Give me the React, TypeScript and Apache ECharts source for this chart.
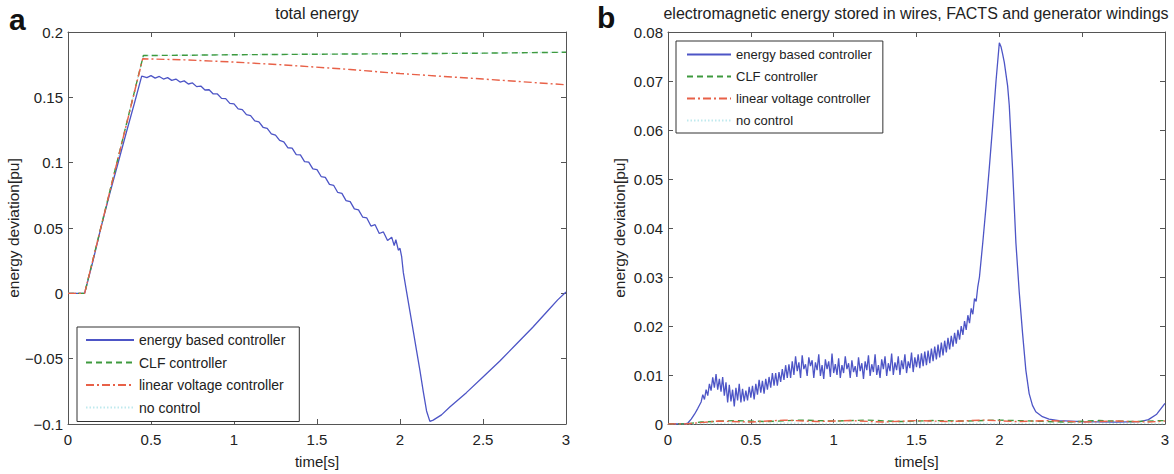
import React, { useEffect, useRef } from "react";
import * as echarts from "echarts";

const FONT = '"Liberation Sans", Arial, Helvetica, sans-serif';

const seriesNames = [
  "energy based controller",
  "CLF controller",
  "linear voltage controller",
  "no control",
];
const seriesColors = ["#4d55c6", "#3e9a3e", "#e86148", "#bfe9ee"];

const timeTicks = { min: 0, max: 3, interval: 0.5 };
const leftYTicks = { min: -0.1, max: 0.2, interval: 0.05 };
const rightYTicks = { min: 0, max: 0.08, interval: 0.01 };

const leftTitle = "total energy";
const rightTitle = "electromagnetic energy stored in wires, FACTS and generator windings";
const xName = "time[s]";
const yName = "energy deviation[pu]";

// ---- panel a: total energy ----
const leftEnergyBased: [number, number][] = [
  [0, 0], [0.1, 0], [0.15, 0.0245], [0.2, 0.051], [0.25, 0.0755], [0.3, 0.099], [0.35, 0.1225],
  [0.4, 0.1455], [0.444, 0.1662], [0.45, 0.166], [0.475, 0.1651], [0.5, 0.1666], [0.525, 0.1647],
  [0.55, 0.166], [0.575, 0.164], [0.6, 0.1651], [0.625, 0.163], [0.65, 0.164], [0.675, 0.1617],
  [0.7, 0.1626], [0.725, 0.1602], [0.75, 0.161], [0.775, 0.1582], [0.8, 0.1586], [0.825, 0.1556],
  [0.85, 0.1558], [0.875, 0.1526], [0.9, 0.1526], [0.925, 0.1492], [0.95, 0.149], [0.975, 0.1454],
  [1.0, 0.145], [1.025, 0.1412], [1.05, 0.1406], [1.075, 0.1367], [1.1, 0.136], [1.125, 0.132],
  [1.15, 0.1312], [1.175, 0.1271], [1.2, 0.1262], [1.225, 0.1221], [1.25, 0.1211], [1.275, 0.117],
  [1.3, 0.116], [1.325, 0.1114], [1.35, 0.1112], [1.375, 0.1062], [1.4, 0.1059], [1.425, 0.1008],
  [1.45, 0.1004], [1.475, 0.0952], [1.5, 0.0947], [1.525, 0.0894], [1.55, 0.0888], [1.575, 0.0834],
  [1.6, 0.0827], [1.625, 0.0772], [1.65, 0.0765], [1.675, 0.071], [1.7, 0.0702], [1.725, 0.0646],
  [1.75, 0.0639], [1.775, 0.0584], [1.8, 0.0577], [1.825, 0.0515], [1.85, 0.0525], [1.875, 0.0458],
  [1.9, 0.047], [1.925, 0.0405], [1.95, 0.043], [1.965, 0.0365], [1.975, 0.041], [1.99, 0.033],
  [2.0, 0.0345], [2.01, 0.028], [2.02, 0.016], [2.04, 0.001], [2.06, -0.014], [2.08, -0.029],
  [2.1, -0.044], [2.12, -0.059], [2.14, -0.075], [2.16, -0.09], [2.18, -0.098], [2.2, -0.097],
  [2.25, -0.093], [2.3, -0.087], [2.4, -0.076], [2.5, -0.064], [2.6, -0.052], [2.7, -0.039],
  [2.8, -0.026], [2.9, -0.012], [2.95, -0.005], [3.0, 0.001],
];
const leftCLF: [number, number][] = [
  [0, 0], [0.1, 0], [0.454, 0.182], [0.7, 0.1822], [1.0, 0.1826], [1.5, 0.183], [2.0, 0.1834],
  [2.5, 0.1838], [3.0, 0.1845],
];
const leftLinear: [number, number][] = [
  [0, 0], [0.1, 0], [0.45, 0.1795], [0.7, 0.1787], [1.0, 0.177], [1.3, 0.1748], [1.7, 0.1713],
  [2.0, 0.1682], [2.5, 0.164], [3.0, 0.1596],
];
const leftNoControl: [number, number][] = [
  [0, 0], [0.1, 0], [0.454, 0.182], [0.7, 0.1822], [1.0, 0.1826], [1.5, 0.183], [2.0, 0.1834],
  [2.5, 0.1838], [3.0, 0.1845],
];

// ---- panel b: electromagnetic energy ----
const rightEnergyBased: [number, number][] = [
  [0, 0], [0.1, 0], [0.12, 0.0002], [0.14, 0.001], [0.16, 0.002], [0.18, 0.0032],
  [0.2, 0.0045], [0.21, 0.006], [0.22, 0.005], [0.23, 0.007], [0.24, 0.0058], [0.25, 0.0082],
  [0.26, 0.0068], [0.27, 0.0095], [0.28, 0.0074], [0.29, 0.0102], [0.3, 0.007], [0.31, 0.0092],
  [0.32, 0.0066], [0.33, 0.0096], [0.34, 0.0058], [0.35, 0.0085], [0.36, 0.0044], [0.37, 0.008],
  [0.38, 0.0046], [0.39, 0.007], [0.4, 0.0036], [0.41, 0.0074], [0.42, 0.0048], [0.43, 0.0082],
  [0.44, 0.0044], [0.45, 0.0072], [0.46, 0.0046], [0.47, 0.0068], [0.48, 0.0048], [0.49, 0.0076],
  [0.5, 0.0054], [0.51, 0.0078], [0.52, 0.005], [0.53, 0.0082], [0.54, 0.006], [0.55, 0.009],
  [0.56, 0.0064], [0.57, 0.0088], [0.58, 0.0062], [0.59, 0.0092], [0.6, 0.007], [0.61, 0.0096],
  [0.62, 0.0074], [0.63, 0.0104], [0.64, 0.0078], [0.65, 0.0104], [0.66, 0.0078], [0.67, 0.0106],
  [0.68, 0.0086], [0.69, 0.0112], [0.7, 0.009], [0.71, 0.012], [0.72, 0.0094], [0.73, 0.0122],
  [0.74, 0.0094], [0.75, 0.0128], [0.76, 0.01], [0.77, 0.0138], [0.78, 0.0108], [0.79, 0.0126],
  [0.8, 0.0094], [0.81, 0.014], [0.82, 0.0112], [0.83, 0.0122], [0.84, 0.0098], [0.85, 0.0136],
  [0.86, 0.0118], [0.87, 0.013], [0.88, 0.0094], [0.89, 0.0126], [0.9, 0.011], [0.91, 0.0142],
  [0.92, 0.0098], [0.93, 0.012], [0.94, 0.0092], [0.95, 0.0132], [0.96, 0.0112], [0.97, 0.0128],
  [0.98, 0.0096], [0.99, 0.0144], [1.0, 0.0104], [1.01, 0.0122], [1.02, 0.01], [1.03, 0.0134],
  [1.04, 0.0094], [1.05, 0.012], [1.06, 0.0104], [1.07, 0.0138], [1.08, 0.0112], [1.09, 0.0124],
  [1.1, 0.0094], [1.11, 0.013], [1.12, 0.0106], [1.13, 0.0118], [1.14, 0.0096], [1.15, 0.0136],
  [1.16, 0.0108], [1.17, 0.0124], [1.18, 0.0092], [1.19, 0.0128], [1.2, 0.011], [1.21, 0.014],
  [1.22, 0.0098], [1.23, 0.0122], [1.24, 0.0106], [1.25, 0.0142], [1.26, 0.01], [1.27, 0.012],
  [1.28, 0.0094], [1.29, 0.0132], [1.3, 0.0112], [1.31, 0.0138], [1.32, 0.0098], [1.33, 0.0124],
  [1.34, 0.0108], [1.35, 0.0144], [1.36, 0.01], [1.37, 0.0126], [1.38, 0.011], [1.39, 0.0138],
  [1.4, 0.01], [1.41, 0.013], [1.42, 0.0112], [1.43, 0.0142], [1.44, 0.0104], [1.45, 0.0128],
  [1.46, 0.0114], [1.47, 0.0146], [1.48, 0.0106], [1.49, 0.0136], [1.5, 0.0116], [1.51, 0.0142],
  [1.52, 0.0114], [1.53, 0.0144], [1.54, 0.0118], [1.55, 0.0148], [1.56, 0.012], [1.57, 0.015],
  [1.58, 0.0124], [1.59, 0.0154], [1.6, 0.0128], [1.61, 0.0158], [1.62, 0.0132], [1.63, 0.0162],
  [1.64, 0.0136], [1.65, 0.0166], [1.66, 0.014], [1.67, 0.017], [1.68, 0.0146], [1.69, 0.0176],
  [1.7, 0.0152], [1.71, 0.018], [1.72, 0.0158], [1.73, 0.0186], [1.74, 0.0164], [1.75, 0.0192],
  [1.76, 0.0172], [1.77, 0.02], [1.78, 0.0182], [1.79, 0.021], [1.8, 0.0192], [1.81, 0.0222],
  [1.82, 0.0206], [1.83, 0.0236], [1.84, 0.0224], [1.85, 0.0256], [1.86, 0.025], [1.87, 0.028],
  [1.88, 0.03], [1.9, 0.037], [1.92, 0.0445], [1.94, 0.0525], [1.96, 0.061], [1.98, 0.07],
  [2.0, 0.0778], [2.01, 0.077], [2.02, 0.0755], [2.03, 0.0738], [2.05, 0.069], [2.06, 0.065],
  [2.08, 0.052], [2.1, 0.037], [2.12, 0.027], [2.14, 0.0186], [2.16, 0.011], [2.18, 0.0062],
  [2.2, 0.0038], [2.22, 0.0025], [2.26, 0.0015], [2.3, 0.001], [2.36, 0.0007], [2.5, 0.0005],
  [2.7, 0.0004], [2.85, 0.0005], [2.9, 0.0009], [2.95, 0.002], [3.0, 0.0042],
];
const rightCLF: [number, number][] = [
  [0, 0], [0.1, 0], [0.2, 0.0004], [0.4, 0.0007], [0.6, 0.0005], [0.8, 0.0008], [1.0, 0.0006],
  [1.2, 0.0008], [1.4, 0.0005], [1.6, 0.0007], [1.8, 0.0006], [2.0, 0.0008], [2.2, 0.0006],
  [2.4, 0.0004], [2.6, 0.0007], [2.8, 0.0005], [3.0, 0.0007],
];
const rightLinear: [number, number][] = [
  [0, 0], [0.1, 0], [0.3, 0.0006], [0.5, 0.0004], [0.7, 0.0008], [0.9, 0.0005], [1.1, 0.0007],
  [1.3, 0.0004], [1.5, 0.0007], [1.7, 0.0005], [1.9, 0.0008], [2.1, 0.0005], [2.3, 0.0007],
  [2.5, 0.0004], [2.7, 0.0006], [2.9, 0.0004], [3.0, 0.0006],
];
const rightNoControl: [number, number][] = [
  [0, 0], [0.5, 0.0002], [1.0, 0.0001], [1.5, 0.0002], [2.0, 0.0001], [2.5, 0.0002], [3.0, 0.0001],
];

const lineTypes: any[] = ["solid", [6, 4], [8, 3, 2, 3], [1.5, 2]];

function fmtNum(v: number) {
  return String(+v.toFixed(4)).replace("-", "\u2212");
}

function xAxes(gridIndex: number) {
  const base = {
    type: "value",
    gridIndex,
    min: timeTicks.min,
    max: timeTicks.max,
    interval: timeTicks.interval,
    splitLine: { show: false },
    axisLine: { show: true, onZero: false, lineStyle: { color: "#555", width: 1 } },
    axisTick: { show: true, inside: true, length: 5, lineStyle: { color: "#555" } },
  };
  return [
    {
      ...base,
      position: "bottom",
      name: xName,
      nameLocation: "middle",
      nameGap: 30,
      nameTextStyle: { fontFamily: FONT, fontSize: 15, color: "#222" },
      axisLabel: { fontFamily: FONT, fontSize: 15, color: "#222", margin: 8, formatter: fmtNum },
    },
    { ...base, position: "top", axisLabel: { show: false } },
  ];
}

function yAxes(gridIndex: number, t: { min: number; max: number; interval: number }) {
  const base = {
    type: "value",
    gridIndex,
    min: t.min,
    max: t.max,
    interval: t.interval,
    splitLine: { show: false },
    axisLine: { show: true, onZero: false, lineStyle: { color: "#555", width: 1 } },
    axisTick: { show: true, inside: true, length: 5, lineStyle: { color: "#555" } },
  };
  return [
    {
      ...base,
      position: "left",
      name: yName,
      nameLocation: "middle",
      nameGap: 41,
      nameTextStyle: { fontFamily: FONT, fontSize: 15.5, color: "#222" },
      axisLabel: { fontFamily: FONT, fontSize: 15, color: "#222", margin: 5, formatter: fmtNum },
    },
    { ...base, position: "right", axisLabel: { show: false } },
  ];
}

function makeSeries(datas: [number, number][][], xIdx: number, yIdx: number) {
  return datas.map((d, i) => ({
    name: seriesNames[i],
    type: "line",
    xAxisIndex: xIdx,
    yAxisIndex: yIdx,
    data: d,
    symbol: "none",
    showSymbol: false,
    z: i === 3 ? 1 : 2 + i,
    lineStyle: { color: seriesColors[i], width: i === 0 ? 1.3 : 1.4, type: lineTypes[i] },
    itemStyle: { color: seriesColors[i] },
  }));
}

export default function App() {
  const ref = useRef<HTMLDivElement>(null);
  useEffect(() => {
    if (!ref.current) return;
    const chart = echarts.init(ref.current, undefined, { renderer: "svg" });
    const legendBase = {
      data: seriesNames,
      orient: "vertical",
      borderColor: "#333",
      borderWidth: 1,
      backgroundColor: "#fff",
      itemHeight: 12,
      selectedMode: false,
      itemStyle: { opacity: 0 },
    };
    chart.setOption({
      animation: false,
      backgroundColor: "#fff",
      textStyle: { fontFamily: FONT },
      grid: [
        { left: 68, top: 32, width: 498, height: 397 },
        { left: 668, top: 32, width: 497, height: 397 },
      ],
      xAxis: [...xAxes(0), ...xAxes(1)],
      yAxis: [...yAxes(0, leftYTicks), ...yAxes(1, rightYTicks)],
      legend: [
        {
          ...legendBase, left: 77, top: 327, itemWidth: 48, itemGap: 8.5, padding: [6, 14, 7, 8],
          textStyle: { fontFamily: FONT, fontSize: 14, color: "#222" },
        },
        {
          ...legendBase, left: 676, top: 41, itemWidth: 44, itemGap: 9, padding: [7, 11, 6, 10],
          textStyle: { fontFamily: FONT, fontSize: 13, color: "#222" },
        },
      ],
      graphic: [
        { type: "text", left: 9, top: 4, style: { text: "a", font: `bold 30px ${FONT}`, fill: "#111" } },
        { type: "text", left: 597, top: 2, style: { text: "b", font: `bold 30px ${FONT}`, fill: "#111" } },
        {
          type: "text", x: 317, y: 13,
          style: { text: leftTitle, font: `16px ${FONT}`, fill: "#222", align: "center", verticalAlign: "middle" },
        },
        {
          type: "text", x: 916, y: 13,
          style: { text: rightTitle, font: `16px ${FONT}`, fill: "#222", align: "center", verticalAlign: "middle" },
        },
      ],
      series: [
        ...makeSeries([leftEnergyBased, leftCLF, leftLinear, leftNoControl], 0, 0),
        ...makeSeries([rightEnergyBased, rightCLF, rightLinear, rightNoControl], 2, 2),
      ],
    });
    return () => chart.dispose();
  }, []);
  return (
    <div
      ref={ref}
      style={{ position: "absolute", left: 0, top: 0, width: 1174, height: 474, background: "#fff" }}
    />
  );
}
